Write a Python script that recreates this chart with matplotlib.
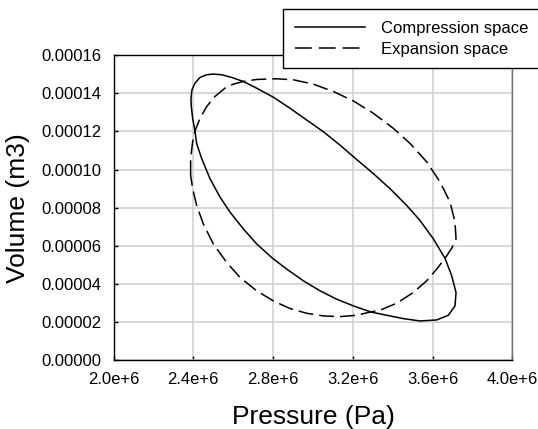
#!/usr/bin/env python3
"""Plots the P-V loops of the compression and expansion spaces."""

import matplotlib

matplotlib.use("Agg")
import matplotlib.pyplot as plt
from matplotlib.lines import Line2D

plt.rcParams["font.family"] = ["Liberation Sans", "DejaVu Sans"]

# Compression space loop (Pa, m3)
comp_p = [2.4084e6, 2.3967e6, 2.3900e6, 2.3883e6, 2.3933e6, 2.4084e6,
          2.4334e6, 2.4669e6, 2.5003e6, 2.5421e6, 2.5922e6, 2.6507e6,
          2.7176e6, 2.8012e6, 2.8847e6, 2.9683e6, 3.0519e6, 3.1355e6,
          3.2190e6, 3.3026e6, 3.3862e6, 3.4698e6, 3.5366e6, 3.6035e6,
          3.6620e6, 3.6954e6, 3.7172e6, 3.7121e6, 3.6787e6, 3.6202e6,
          3.5366e6, 3.4530e6, 3.3695e6, 3.2892e6, 3.2023e6, 3.1187e6,
          3.0352e6, 2.9516e6, 2.8680e6, 2.7978e6, 2.7176e6, 2.6507e6,
          2.5839e6, 2.5337e6, 2.4836e6, 2.4418e6, 2.4167e6, 2.4084e6]
comp_v = [1.2018e-4, 1.2684e-4, 1.3298e-4, 1.3737e-4, 1.4175e-4, 1.4526e-4,
          1.4825e-4, 1.4965e-4, 1.5000e-4, 1.4965e-4, 1.4825e-4, 1.4614e-4,
          1.4263e-4, 1.3789e-4, 1.3211e-4, 1.2596e-4, 1.1982e-4, 1.1281e-4,
          1.0526e-4, 9.789e-5, 9.000e-5, 8.123e-5, 7.333e-5, 6.368e-5,
          5.351e-5, 4.439e-5, 3.561e-5, 2.860e-5, 2.368e-5, 2.123e-5,
          2.070e-5, 2.193e-5, 2.368e-5, 2.544e-5, 2.860e-5, 3.211e-5,
          3.649e-5, 4.175e-5, 4.789e-5, 5.351e-5, 6.105e-5, 6.895e-5,
          7.772e-5, 8.561e-5, 9.526e-5, 1.0579e-4, 1.1368e-4, 1.2018e-4]

# Expansion space loop (Pa, m3)
exp_p = [2.3866e6, 2.3866e6, 2.3967e6, 2.4084e6, 2.4334e6, 2.4669e6,
         2.5086e6, 2.5588e6, 2.6006e6, 2.6507e6, 2.7176e6, 2.8179e6,
         2.9015e6, 3.0017e6, 3.1020e6, 3.2023e6, 3.3026e6, 3.4029e6,
         3.4865e6, 3.5701e6, 3.6369e6, 3.6871e6, 3.7121e6, 3.7172e6,
         3.6954e6, 3.6620e6, 3.6202e6, 3.5701e6, 3.5032e6, 3.4196e6,
         3.3360e6, 3.2892e6, 3.2190e6, 3.1355e6, 3.0519e6, 2.9683e6,
         2.8847e6, 2.8012e6, 2.7176e6, 2.6340e6, 2.5672e6, 2.5003e6,
         2.4501e6, 2.4167e6, 2.3967e6, 2.3866e6]
exp_v = [9.702e-5, 1.0579e-4, 1.1456e-4, 1.2018e-4, 1.2684e-4, 1.3298e-4,
         1.3825e-4, 1.4263e-4, 1.4474e-4, 1.4614e-4, 1.4719e-4, 1.4754e-4,
         1.4702e-4, 1.4474e-4, 1.4088e-4, 1.3596e-4, 1.2947e-4, 1.2158e-4,
         1.1368e-4, 1.0404e-4, 9.351e-5, 8.298e-5, 7.246e-5, 6.368e-5,
         5.877e-5, 5.351e-5, 4.789e-5, 4.175e-5, 3.561e-5, 3.000e-5,
         2.632e-5, 2.544e-5, 2.368e-5, 2.298e-5, 2.333e-5, 2.474e-5,
         2.719e-5, 3.123e-5, 3.649e-5, 4.351e-5, 5.140e-5, 6.105e-5,
         7.158e-5, 8.123e-5, 9.000e-5, 9.702e-5]

xticks = [2.0e6, 2.4e6, 2.8e6, 3.2e6, 3.6e6, 4.0e6]
xtick_labels = ["2.0e+6", "2.4e+6", "2.8e+6", "3.2e+6", "3.6e+6", "4.0e+6"]
yticks = [0.0, 0.00002, 0.00004, 0.00006, 0.00008, 0.00010, 0.00012,
          0.00014, 0.00016]
ytick_labels = ["%.5f" % v for v in yticks]
labels = ["Compression space", "Expansion space"]


def plot_loops(image_name="out.png"):
    """Draws both loops and saves the figure."""
    fig = plt.figure(figsize=(5.38, 4.29), dpi=100)
    ax = fig.add_axes([0.211, 0.1597, 0.7415, 0.7121])

    dash = (9.8, 3.9)
    ax.plot(comp_p, comp_v, color="k", lw=1.1)
    ax.plot(exp_p, exp_v, color="k", lw=1.1, dashes=dash)

    ax.set_xlim(2.0e6, 4.0e6)
    ax.set_ylim(0.0, 0.00016)
    ax.set_xticks(xticks)
    ax.set_xticklabels(xtick_labels)
    ax.set_yticks(yticks)
    ax.set_yticklabels(ytick_labels)

    ax.grid(True, color="#d2d2d2", lw=1.2)
    ax.set_axisbelow(True)
    ax.tick_params(direction="in", length=3, width=1, labelsize=12,
                   color="k")
    ax.tick_params(axis="x", pad=8.5)
    ax.tick_params(axis="y", pad=8.5)
    for side in ["left", "bottom", "top"]:
        ax.spines[side].set_linewidth(1.0)
        ax.spines[side].set_color("k")
    ax.spines["right"].set_linewidth(1.0)
    ax.spines["right"].set_color("#707070")

    ax.set_xlabel("Pressure (Pa)", fontsize=19, labelpad=13)
    ax.set_ylabel("Volume (m3)", fontsize=19, labelpad=8)

    handles = [
        Line2D([], [], color="k", lw=1.1),
        Line2D([], [], color="k", lw=1.1, dashes=(11, 4.6)),
    ]
    top = 1 - 9.3 / 429
    height = 57.0 / 429
    leg = fig.legend(
        handles, labels,
        loc="upper left",
        bbox_to_anchor=(283 / 538, top - height, 275 / 538, height),
        mode="expand",
        frameon=True, fancybox=False, shadow=False,
        fontsize=12, handlelength=4.2, handletextpad=1.0,
        borderpad=0.7, labelspacing=0.35, borderaxespad=0.0,
    )
    leg.get_frame().set_edgecolor("k")
    leg.get_frame().set_linewidth(1.0)
    leg.get_frame().set_alpha(1.0)

    fig.savefig(image_name, dpi=100)
    return 0


if __name__ == "__main__":
    plot_loops(image_name="out.png")
